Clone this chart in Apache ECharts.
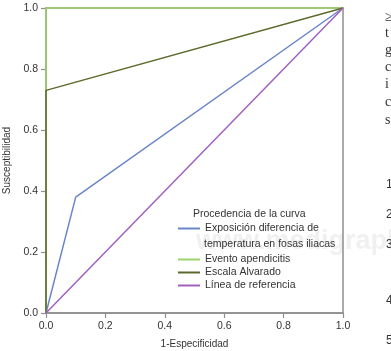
<!DOCTYPE html>
<html>
<head>
<meta charset="utf-8">
<script src="https://cdn.jsdelivr.net/npm/echarts@6/dist/echarts.min.js"></script>
<style>
  html, body { margin: 0; padding: 0; background: #fff; }
  #chart { width: 391px; height: 351px; }
</style>
</head>
<body>
<div id="chart"></div>
<script>
  // curvas ROC
  const exposicionX = [0, 0.1, 1]
  const exposicionY = [0, 0.38, 1]
  const eventoX = [0, 0, 1]
  const eventoY = [0, 1, 1]
  const alvaradoX = [0, 0, 1]
  const alvaradoY = [0, 0.73, 1]
  const referenciaX = [0, 1]
  const referenciaY = [0, 1]
  const seriesNames = ['Exposición diferencia de temperatura en fosas iliacas', 'Evento apendicitis', 'Escala Alvarado', 'Línea de referencia']
  const seriesColors = ['#6b86c8', '#9fd36b', '#5b6a2c', '#a060c0']
  const sideLetters = ['≥', 't', 'g', 'c', 'i', 'c', 's']
  const sideNumbers = ['1', '2', '3', '4', '5']

  const font = 'Liberation Sans, Arial, sans-serif'
  const pairs = (xs, ys) => xs.map((x, i) => [x, ys[i]])

  const chart = echarts.init(document.getElementById('chart'))

  const seriesData = [
    pairs(exposicionX, exposicionY),
    pairs(eventoX, eventoY),
    pairs(alvaradoX, alvaradoY),
    pairs(referenciaX, referenciaY)
  ]

  const axisCommon = {
    type: 'value',
    min: 0,
    max: 1,
    interval: 0.2,
    nameLocation: 'middle',
    nameTextStyle: { fontFamily: font, fontSize: 10, color: '#333' },
    axisLine: { show: true, lineStyle: { color: '#8f8f8f', width: 1.5 } },
    axisTick: { show: true, inside: false, length: 5, lineStyle: { color: '#8f8f8f', width: 1.2 } },
    axisLabel: { fontFamily: font, fontSize: 10.5, color: '#333', formatter: v => v.toFixed(1) },
    splitLine: { show: false }
  }

  const legendCommon = {
    orient: 'vertical',
    left: 177,
    padding: 0,
    itemGap: 2,
    itemWidth: 22,
    itemHeight: 12,
    itemStyle: { opacity: 0 },
    textStyle: { fontFamily: font, fontSize: 10.5, color: '#333' }
  }

  const letterY = [18, 34, 51, 68, 85, 103, 121]
  const numberY = [186, 216, 246, 302, 342]

  const graphics = [
    {
      type: 'text', left: 193, top: 209, z: 10,
      style: { text: 'Procedencia de la curva', fontFamily: font, fontSize: 10.5, fill: '#333' }
    },
    {
      type: 'text', left: 204, top: 239, z: 10,
      style: { text: 'temperatura en fosas iliacas', fontFamily: font, fontSize: 10.5, fill: '#333' }
    },
    {
      type: 'text', left: 196, top: 228, z: -1, silent: true,
      style: { text: 'www.medigraphic', fontFamily: font, fontSize: 27, fontWeight: 'bold', fill: '#f0f0f0' }
    }
  ]
  sideLetters.forEach((t, i) => {
    graphics.push({
      type: 'text', left: 385, top: letterY[i] - 8,
      style: { text: t, fontFamily: 'Liberation Serif, serif', fontSize: 14, fill: '#333' }
    })
  })
  sideNumbers.forEach((t, i) => {
    graphics.push({
      type: 'text', left: 386, top: numberY[i] - 7,
      style: { text: t, fontFamily: font, fontSize: 12, fill: '#333' }
    })
  })

  const option = {
    animation: false,
    grid: {
      left: 46,
      top: 8,
      right: 48,
      bottom: 38,
      outerBoundsMode: 'none',
      containLabel: false,
      show: true,
      borderColor: '#8f8f8f',
      borderWidth: 1.5,
      backgroundColor: 'transparent'
    },
    xAxis: Object.assign({}, axisCommon, { name: '1-Especificidad', nameGap: 26 }),
    yAxis: Object.assign({}, axisCommon, { name: 'Susceptibilidad', nameGap: 32 }),
    legend: [
      Object.assign({}, legendCommon, {
        top: 223,
        data: [seriesNames[0]],
        formatter: () => 'Exposición diferencia de'
      }),
      Object.assign({}, legendCommon, {
        top: 254,
        data: seriesNames.slice(1)
      })
    ],
    graphic: graphics,
    series: seriesData.map((data, i) => ({
      type: 'line',
      name: seriesNames[i],
      data,
      symbol: 'none',
      clip: false,
      lineStyle: { color: seriesColors[i], width: 1.5 },
      itemStyle: { color: seriesColors[i] }
    }))
  }

  chart.setOption(option)
</script>
</body>
</html>
